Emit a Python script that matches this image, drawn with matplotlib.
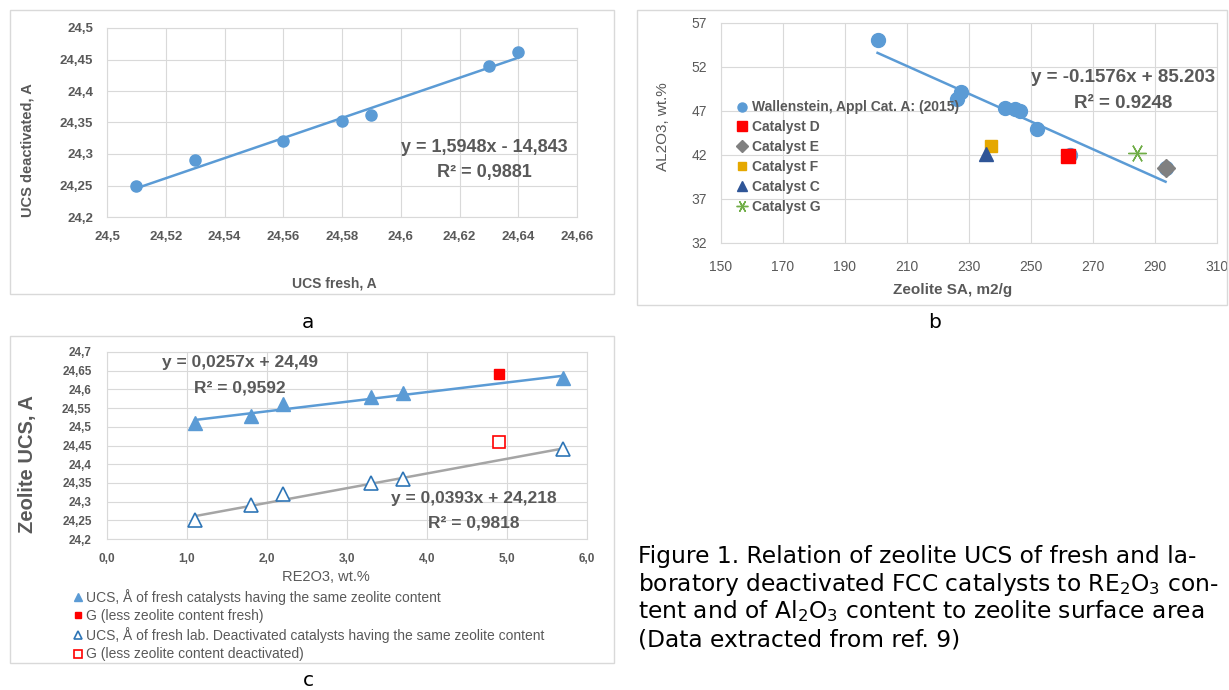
import numpy as np
import matplotlib
matplotlib.use("Agg")
import matplotlib.pyplot as plt
from matplotlib.patches import Rectangle
from matplotlib.ticker import FixedLocator, FuncFormatter

W, H = 1229, 690

FONT = ["Liberation Sans", "DejaVu Sans"]
NARROW = ["Liberation Sans Narrow", "Liberation Sans", "DejaVu Sans"]
plt.rcParams["font.family"] = FONT

GREY_TXT = "#595959"
GRID = "#D9D9D9"
BLUE = "#5B9BD5"

# --- a: UCS fresh vs deactivated ---
ucs_fresh = [24.51, 24.53, 24.56, 24.58, 24.59, 24.63, 24.64]
ucs_deact = [24.25, 24.29, 24.32, 24.352, 24.362, 24.44, 24.462]
fit_a = (1.5948, -14.843)
r2_a = "0,9881"

# --- b: zeolite surface area vs Al2O3 ---
wall_sa = [200.5, 226.2, 227.3, 241.6, 244.8, 246.5, 252.0, 262.5, 293.4]
wall_al = [55.07, 48.4, 49.2, 47.3, 47.2, 47.0, 44.9, 42.0, 40.5]
cat_names = ["Catalyst D", "Catalyst E", "Catalyst F", "Catalyst C", "Catalyst G"]
cat_sa = [262.0, 293.4, 237.1, 235.4, 284.1]
cat_al = [41.9, 40.5, 43.05, 42.1, 42.2]
fit_b = (-0.1576, 85.203)
r2_b = "0.9248"

# --- c: RE2O3 vs zeolite UCS ---
re2o3 = [1.1, 1.8, 2.2, 3.3, 3.7, 5.7]
ucs_fresh_c = [24.51, 24.53, 24.56, 24.58, 24.59, 24.63]
ucs_deact_c = [24.25, 24.29, 24.32, 24.35, 24.36, 24.44]
g_re2o3 = 4.9
g_fresh = 24.64
g_deact = 24.46
fit_c_fresh = (0.0257, 24.49)
fit_c_deact = (0.0393, 24.218)
r2_c_fresh = "0,9592"
r2_c_deact = "0,9818"


def px_axes(left, top, right, bottom):
    return fig.add_axes([left / W, 1 - bottom / H, (right - left) / W, (bottom - top) / H])


def fx(x):
    return x / W


def fy(y):
    return 1 - y / H


def comma(v, pos=None):
    s = f"{v:.2f}".rstrip("0").rstrip(".")
    return s.replace(".", ",")


def excel_look(ax):
    ax.grid(True, color=GRID, linewidth=0.8)
    ax.set_axisbelow(True)
    for sp in ax.spines.values():
        sp.set_color(GRID)
        sp.set_linewidth(0.8)
    ax.tick_params(length=0, colors=GREY_TXT)


def eq_text(x, y, s, size):
    fig.text(fx(x), fy(y), s, ha="center", va="center", fontsize=size,
             fontweight="bold", color=GREY_TXT)


fig = plt.figure(figsize=(W / 100, H / 100), dpi=100)
fig.patch.set_facecolor("white")

# outer chart frames
for (x0, y0, x1, y1) in [(10, 10, 614, 294), (637, 10, 1227, 305), (10, 336, 614, 663)]:
    fig.patches.append(Rectangle((fx(x0), fy(y1)), (x1 - x0) / W, (y1 - y0) / H,
                                 transform=fig.transFigure, fill=False,
                                 edgecolor=GRID, linewidth=1))

# ---------------- panel a ----------------
ax_a = px_axes(107, 28, 577, 217)
excel_look(ax_a)
ax_a.set_xlim(24.5, 24.66)
ax_a.set_ylim(24.2, 24.5)
ax_a.xaxis.set_major_locator(FixedLocator(np.round(np.arange(24.5, 24.661, 0.02), 2)))
ax_a.yaxis.set_major_locator(FixedLocator(np.round(np.arange(24.2, 24.501, 0.05), 2)))
ax_a.xaxis.set_major_formatter(FuncFormatter(comma))
ax_a.yaxis.set_major_formatter(FuncFormatter(comma))
ax_a.tick_params(axis="x", pad=10, labelsize=9.5)
ax_a.tick_params(axis="y", pad=10, labelsize=9.5)
for lab in ax_a.get_xticklabels() + ax_a.get_yticklabels():
    lab.set_fontweight("bold")
xa = np.array([min(ucs_fresh), max(ucs_fresh)])
ax_a.plot(xa, fit_a[0] * xa + fit_a[1], color=BLUE, linewidth=1.8, zorder=2)
ax_a.plot(ucs_fresh, ucs_deact, "o", color=BLUE, markersize=8, zorder=3)
eq_text(484, 147, "y = 1,5948x - 14,843", 13)
eq_text(484, 173, "R² = " + r2_a, 13)
fig.text(fx(334), fy(283), "UCS fresh, A", ha="center", va="center",
         fontsize=10, fontweight="bold", color=GREY_TXT)
fig.text(fx(28), fy(150), "UCS deactivated, A", ha="center", va="center",
         rotation=90, fontsize=10.5, fontweight="bold", color=GREY_TXT)

# ---------------- panel b ----------------
ax_b = px_axes(721, 23, 1217, 243)
excel_look(ax_b)
ax_b.set_xlim(150, 310)
ax_b.set_ylim(32, 57)
ax_b.set_xticks(np.arange(150, 311, 20))
ax_b.set_yticks(np.arange(32, 58, 5))
ax_b.tick_params(axis="x", pad=12, labelsize=10)
ax_b.tick_params(axis="y", pad=10, labelsize=10)
xb = np.array([min(wall_sa), max(wall_sa)])
ax_b.plot(xb, fit_b[0] * xb + fit_b[1], color=BLUE, linewidth=1.8, zorder=2)
ax_b.plot(wall_sa, wall_al, "o", color=BLUE, markersize=10, zorder=3,
          label="Wallenstein, Appl Cat. A: (2015)")
cat_styles = [
    dict(marker="s", color="#FF0000", markersize=10),
    dict(marker="D", color="#808080", markersize=9.5),
    dict(marker="s", color="#E5A800", markersize=9),
    dict(marker="^", color="#2F5597", markersize=10),
    dict(marker=(6, 2, 90), color="#70AD47", markersize=13, markeredgewidth=1.0),
]
for name, sa, al, st in zip(cat_names, cat_sa, cat_al, cat_styles):
    ax_b.plot([sa], [al], linestyle="none", zorder=4, label=name, **st)
eq_text(1123, 77, "y = -0.1576x + 85.203", 13.5)
eq_text(1123, 103, "R² = " + r2_b, 13.5)
ax_b.legend(loc="upper left", bbox_to_anchor=(fx(736), fy(100.5)),
            bbox_transform=fig.transFigure, frameon=False, borderpad=0,
            borderaxespad=0, handlelength=0.8, handletextpad=0.36,
            labelspacing=0.42, markerscale=0.65,
            prop=dict(family=NARROW, size=10, weight="bold"),
            labelcolor=GREY_TXT)
fig.text(fx(663), fy(127), "AL2O3, wt.%", ha="center", va="center",
         rotation=90, fontsize=11, color=GREY_TXT)
fig.text(fx(953), fy(290), "Zeolite SA, m2/g", ha="center", va="center",
         fontsize=11, fontweight="bold", color=GREY_TXT)

# ---------------- panel c ----------------
ax_c = px_axes(107, 352, 587, 539)
excel_look(ax_c)
ax_c.set_xlim(0, 6)
ax_c.set_ylim(24.2, 24.7)
ax_c.set_xticks(np.arange(0, 7, 1))
ax_c.yaxis.set_major_locator(FixedLocator(np.round(np.arange(24.2, 24.701, 0.05), 2)))
ax_c.xaxis.set_major_formatter(FuncFormatter(lambda v, p: f"{v:.1f}".replace(".", ",")))
ax_c.yaxis.set_major_formatter(FuncFormatter(comma))
ax_c.tick_params(axis="x", pad=10, labelsize=8.5)
ax_c.tick_params(axis="y", pad=11, labelsize=8.5)
for lab in ax_c.get_xticklabels() + ax_c.get_yticklabels():
    lab.set_fontweight("bold")
xc = np.array([min(re2o3), max(re2o3)])
ax_c.plot(xc, fit_c_fresh[0] * xc + fit_c_fresh[1], color=BLUE, linewidth=1.8, zorder=2)
ax_c.plot(xc, fit_c_deact[0] * xc + fit_c_deact[1], color="#A5A5A5", linewidth=1.8, zorder=2)
h1, = ax_c.plot(re2o3, ucs_fresh_c, "^", color=BLUE, markersize=10, zorder=3,
                label="UCS, Å of fresh catalysts having the same zeolite content")
h2, = ax_c.plot([g_re2o3], [g_fresh], "s", color="#FF0000", markersize=7.5, zorder=3,
                label="G (less zeolite content fresh)")
h3, = ax_c.plot(re2o3, ucs_deact_c, "^", markerfacecolor="white", markeredgecolor="#2E75B6",
                markeredgewidth=1.2, markersize=10, zorder=3,
                label="UCS, Å of fresh lab. Deactivated catalysts having the same zeolite content")
h4, = ax_c.plot([g_re2o3], [g_deact], "s", markerfacecolor="white", markeredgecolor="#FF0000",
                markeredgewidth=1.2, markersize=9, zorder=3,
                label="G (less zeolite content deactivated)")
eq_text(240, 363, "y = 0,0257x + 24,49", 12.5)
eq_text(240, 388, "R² = " + r2_c_fresh, 12.5)
eq_text(474, 498, "y = 0,0393x + 24,218", 12.5)
eq_text(474, 523, "R² = " + r2_c_deact, 12.5)
fig.text(fx(326), fy(577), "RE2O3, wt.%", ha="center", va="center",
         fontsize=10.5, color=GREY_TXT)
fig.text(fx(28), fy(464), "Zeolite UCS, A", ha="center", va="center",
         rotation=90, fontsize=14.5, fontweight="bold", color=GREY_TXT)
fig.legend(handles=[h1, h2, h3, h4], loc="upper left",
           bbox_to_anchor=(fx(72), fy(589)), frameon=False, borderpad=0,
           borderaxespad=0, handlelength=0.8, handletextpad=0.2,
           labelspacing=0.3, markerscale=0.6, prop=dict(size=10),
           labelcolor=GREY_TXT)

# panel letters
for x, y, s in [(308, 322, "a"), (935, 322, "b"), (308, 681, "c")]:
    fig.text(fx(x), fy(y), s, ha="center", va="center", fontsize=14.5,
             family="DejaVu Sans", color="black")

# caption
caption = [
    "Figure 1. Relation of zeolite UCS of fresh and la-",
    "boratory deactivated FCC catalysts to RE$_2$O$_3$ con-",
    "tent and of Al$_2$O$_3$ content to zeolite surface area",
    "(Data extracted from ref. 9)",
]
for i, line in enumerate(caption):
    fig.text(fx(638), fy(563 + i * 27.8), line, ha="left", va="baseline",
             fontsize=16.8, family="DejaVu Sans", color="black")

fig.savefig("out.png", dpi=100, facecolor="white")
